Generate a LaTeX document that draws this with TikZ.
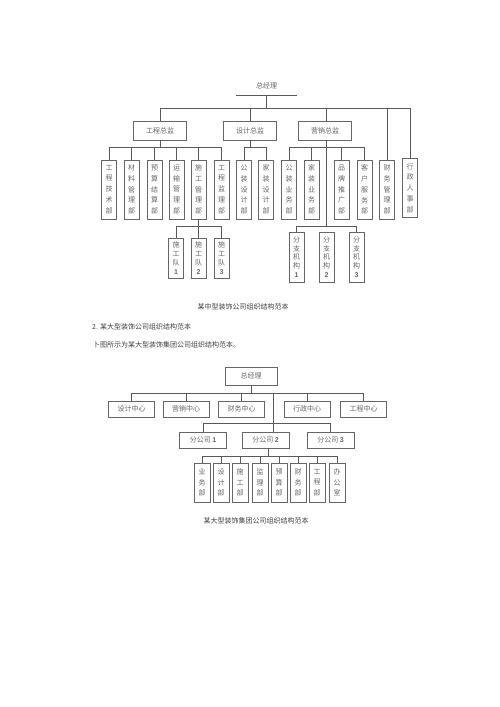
\documentclass[tikz,border=0pt]{standalone}
\usepackage{fontspec}
\setmainfont{Noto Sans CJK SC}
\newfontfamily\numfont{Liberation Sans}
\newcommand{\nb}[1]{{\numfont\bfseries #1}}
\tikzset{
  ln/.style={draw=black!65, line width=0.6pt},
  hbox/.style={draw=black!60, line width=0.7pt, fill=white, inner sep=0pt, text=black!60,
    font=\fontsize{7}{8}\selectfont},
  topbox/.style={hbox, minimum width=53pt, minimum height=19pt},
  vboxA/.style={hbox, align=center, minimum width=15pt, minimum height=59pt,
    font=\fontsize{7}{10.8}\selectfont},
  vboxS/.style={vboxA, minimum height=40pt, font=\fontsize{7}{9}\selectfont},
  vboxF/.style={vboxA, minimum height=50pt, font=\fontsize{7}{8.8}\selectfont},
  cbox/.style={hbox, minimum width=46pt, minimum height=16pt},
  fbox/.style={hbox, minimum width=47pt, minimum height=16pt},
  vboxB/.style={hbox, align=center, minimum width=16pt, minimum height=39pt,
    font=\fontsize{7}{10.5}\selectfont},
  captext/.style={inner sep=0pt, text=black!75, font=\fontsize{7}{8}\selectfont},
}
\begin{document}
\begin{tikzpicture}[x=1pt, y=-1pt]
\fill[white] (0,0) rectangle (500,707);
\useasboundingbox (0,0) rectangle (500,707);

% ---------- chart 1 ----------
\node[inner sep=0pt, minimum width=61pt, minimum height=18pt, text=black!60,
  font=\fontsize{7}{8}\selectfont] (gmA) at (266.5,86) {总经理};
\draw[ln] (gmA.south west) -- (gmA.south east);
\coordinate (busA) at (0,108);
\coordinate (busB) at (0,147);
\coordinate (busC) at (0,226);

\node[topbox] (gcA) at (160,130.5) {工程总监};
\node[topbox] (sjA) at (250,130.5) {设计总监};
\node[topbox] (yxA) at (325,130.5) {营销总监};

\node[vboxA] (d1) at (109,189.5) {工\\程\\技\\术\\部};
\node[vboxA] (d2) at (131.5,189.5) {材\\料\\管\\理\\部};
\node[vboxA] (d3) at (154.5,189.5) {预\\算\\结\\算\\部};
\node[vboxA] (d4) at (176.5,189.5) {运\\输\\管\\理\\部};
\node[vboxA] (d5) at (198.5,189.5) {施\\工\\管\\理\\部};
\node[vboxA] (d6) at (221.5,189.5) {工\\程\\监\\理\\部};
\node[vboxA] (d7) at (244,189.5) {公\\装\\设\\计\\部};
\node[vboxA] (d8) at (266,189.5) {家\\装\\设\\计\\部};
\node[vboxA] (d9) at (289,189.5) {公\\装\\业\\务\\部};
\node[vboxA] (d10) at (311.5,189.5) {家\\装\\业\\务\\部};
\node[vboxA] (d11) at (341.5,189.5) {品\\牌\\推\\广\\部};
\node[vboxA] (d12) at (364.5,189.5) {客\\户\\服\\务\\部};
\node[vboxA] (cw) at (387,189.5) {财\\务\\管\\理\\部};
\node[vboxA] (xz) at (410,188) {行\\政\\人\\事\\部};

\node[vboxS] (s1) at (176,258) {施\\工\\队\\\nb{1}};
\node[vboxS] (s2) at (198.5,258) {施\\工\\队\\\nb{2}};
\node[vboxS] (s3) at (221.5,258) {施\\工\\队\\\nb{3}};

\node[vboxF] (f1) at (296.5,257) {分\\支\\机\\构\\\nb{1}};
\node[vboxF] (f2) at (326.5,257) {分\\支\\机\\构\\\nb{2}};
\node[vboxF] (f3) at (356.5,257) {分\\支\\机\\构\\\nb{3}};

% top bus
\draw[ln] (gmA.south) -- (gmA.south |- busA);
\draw[ln] (gcA.north) -- (gcA.north |- busA) -- (xz.north |- busA) -- (xz.north);
\draw[ln] (sjA.north) -- (sjA.north |- busA);
\draw[ln] (yxA.north -| f2.north) -- (f2.north |- busA);
\draw[ln] (cw.north) -- (cw.north |- busA);
% engineering
\draw[ln] (gcA.south) -- (gcA.south |- busB);
\draw[ln] (d1.north) -- (d1.north |- busB) -- (d6.north |- busB) -- (d6.north);
\foreach \n in {d2,d3,d4,d5} \draw[ln] (\n.north) -- (\n.north |- busB);
% design
\draw[ln] (sjA.south) -- (sjA.south |- busB);
\draw[ln] (d7.north) -- (d7.north |- busB) -- (d8.north |- busB) -- (d8.north);
% marketing
\draw[ln] (yxA.south -| f2.north) -- (f2.north |- busC);
\draw[ln] (d9.north) -- (d9.north |- busB) -- (d12.north |- busB) -- (d12.north);
\foreach \n in {d10,d11} \draw[ln] (\n.north) -- (\n.north |- busB);
\draw[ln] (f1.north) -- (f1.north |- busC) -- (f3.north |- busC) -- (f3.north);
% construction teams
\draw[ln] (d5.south) -- (d5.south |- busC);
\draw[ln] (s1.north) -- (s1.north |- busC) -- (s3.north |- busC) -- (s3.north);
\draw[ln] (s2.north) -- (s2.north |- busC);

\node[captext] (capA) at (243,307) {某中型装饰公司组织结构范本};
\node[captext, anchor=west] (h2) at (92,327) {2. 某大型装饰公司组织结构范本};
\node[captext, anchor=west] (p2) at (93,345) {卜图所示为某大型装饰集团公司组织结构范本。};

% ---------- chart 2 ----------
\coordinate (busD) at (0,393);
\coordinate (busE) at (0,423);
\coordinate (busF) at (0,456);
\node[hbox, minimum width=52pt, minimum height=18pt] (gmB) at (251,376) {总经理};

\node[cbox] (c1) at (131.5,409) {设计中心};
\node[cbox] (c2) at (186,409) {营销中心};
\node[cbox] (c3) at (241.5,409) {财务中心};
\node[cbox] (c4) at (307,409) {行政中心};
\node[cbox] (c5) at (363.5,409) {工程中心};

\node[fbox] (b1) at (203,440) {分公司 \nb{1}};
\node[fbox] (b2) at (265.5,440) {分公司 \nb{2}};
\node[fbox] (b3) at (330.5,440) {分公司 \nb{3}};

\node[vboxB] (e1) at (202,482.5) {业\\务\\部};
\node[vboxB] (e2) at (221,482.5) {设\\计\\部};
\node[vboxB] (e3) at (240,482.5) {施\\工\\部};
\node[vboxB] (e4) at (260,482.5) {监\\理\\部};
\node[vboxB] (e5) at (279,482.5) {预\\算\\部};
\node[vboxB] (e6) at (298,482.5) {财\\务\\部};
\node[vboxB] (e7) at (317,482.5) {工\\程\\部};
\node[vboxB] (e8) at (337,482.5) {办\\公\\室};

\coordinate (jD) at (273,393);
\coordinate (jF) at (268,456);

\draw[ln] (gmB.south) -- (gmB.south |- busD);
\draw[ln] (c1.north) -- (c1.north |- busD) -- (c5.north |- busD) -- (c5.north);
\foreach \n in {c2,c3,c4} \draw[ln] (\n.north) -- (\n.north |- busD);
\draw[ln] (jD) -- (b2.north -| jD);
\draw[ln] (b1.north) -- (b1.north |- busE) -- (b3.north |- busE) -- (b3.north);
\draw[ln] (jF) -- (b2.south -| jF);
\draw[ln] (e1.north) -- (e1.north |- busF) -- (e8.north |- busF) -- (e8.north);
\foreach \n in {e2,e3,e4,e5,e6,e7} \draw[ln] (\n.north) -- (\n.north |- busF);

\node[captext] (capB) at (256,521) {某大型装饰集团公司组织结构范本};
\end{tikzpicture}
\end{document}
